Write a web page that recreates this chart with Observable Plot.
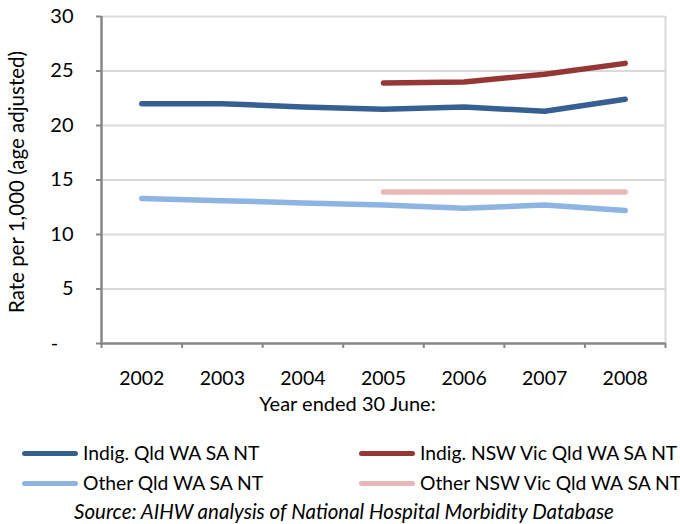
<!DOCTYPE html>
<html><head><meta charset="utf-8">
<script src="https://cdn.jsdelivr.net/npm/d3@7"></script>
<script src="https://cdn.jsdelivr.net/npm/@observablehq/plot@0.6"></script>
<style>
body{margin:0;background:#fff;font-family:Lato,sans-serif;}
#wrap{position:relative;width:680px;height:524px;overflow:hidden;}
#chart{position:absolute;left:0;top:0;}
.leg{position:absolute;display:flex;align-items:center;font-size:19.3px;color:#000;white-space:nowrap;height:20px;line-height:20px;}
.leg .sw{display:inline-block;width:56px;height:5px;border-radius:3px;margin-right:5px;}
#src{position:absolute;left:0;width:688px;text-align:center;top:500px;font-style:italic;font-size:20.5px;line-height:22px;}
</style></head>
<body><div id="wrap"><div id="chart"></div><div id="legend"></div><div id="src">Source: AIHW analysis of National Hospital Morbidity Database</div></div>
<script>
const years = [2002, 2003, 2004, 2005, 2006, 2007, 2008];
const seriesNames = ["Indig. Qld WA SA NT", "Indig. NSW Vic Qld WA SA NT", "Other Qld WA SA NT", "Other NSW Vic Qld WA SA NT"];
const indigQld = [22.0, 22.0, 21.7, 21.5, 21.7, 21.3, 22.4];
const indigAll = [null, null, null, 23.9, 24.0, 24.7, 25.7];
const otherQld = [13.3, 13.1, 12.9, 12.7, 12.4, 12.7, 12.2];
const otherAll = [null, null, null, 13.9, 13.9, 13.9, 13.9];
const colors = ["#376092", "#953735", "#8EB4E3", "#E6B9B8"];
const yTicks = [0, 5, 10, 15, 20, 25, 30];

const seriesValues = [indigQld, indigAll, otherQld, otherAll];
const rows = [];
seriesValues.forEach((vals, i) => vals.forEach((v, j) => {
  if (v != null) rows.push({series: seriesNames[i], year: years[j], value: v});
}));
const boundaries = years.map(y => y - 0.5).concat([years[years.length - 1] + 0.5]);

const chart = Plot.plot({
  width: 680, height: 420,
  marginLeft: 101, marginRight: 15, marginTop: 16, marginBottom: 77,
  x: {domain: [years[0] - 0.5, years[years.length - 1] + 0.5]},
  y: {domain: [0, 30]},
  color: {domain: seriesNames, range: colors},
  style: {fontFamily: "Lato, sans-serif", fontSize: "19px", color: "#000", background: "#fff"},
  marks: [
    Plot.ruleY(yTicks.filter(d => d > 0), {stroke: "#d9d9d9", strokeWidth: 2}),
    Plot.ruleX([years[years.length - 1] + 0.5], {stroke: "#d9d9d9", strokeWidth: 2}),
    Plot.axisY({ticks: yTicks, tickFormat: d => d === 0 ? "-\u00a0\u00a0\u00a0" : String(d), tickSize: 5, tickPadding: 23, stroke: "#868686", strokeWidth: 2, label: null, fontSize: 20}),
    Plot.axisX({ticks: years, tickFormat: d => String(d), tickSize: 0, tickPadding: 28, label: null, fontSize: 19.5}),
    Plot.axisX({ticks: boundaries, tickFormat: () => "", tickSize: 5, stroke: "#868686", strokeWidth: 2, label: null}),
    Plot.ruleX([years[0] - 0.5], {stroke: "#868686", strokeWidth: 2.5}),
    Plot.ruleY([0], {stroke: "#868686", strokeWidth: 2.5}),
    Plot.line(rows, {x: "year", y: "value", z: "series", stroke: "series", strokeWidth: 5.5, strokeLinecap: "round", strokeLinejoin: "round"}),
    Plot.text(["Rate per 1,000 (age adjusted)"], {frameAnchor: "left", rotate: -90, dx: -84, dy: 2, textAnchor: "middle", lineAnchor: "middle", fontSize: 20.5}),
    Plot.text(["Year ended 30 June:"], {frameAnchor: "bottom", dy: 61, dx: -36, textAnchor: "middle", lineAnchor: "middle", fontSize: 20})
  ]
});
document.getElementById("chart").appendChild(chart);

const legendPos = [[22, 443], [359, 443], [22, 473], [359, 473]];
const legend = document.getElementById("legend");
seriesNames.forEach((name, i) => {
  const d = document.createElement("div");
  d.className = "leg";
  d.style.left = legendPos[i][0] + "px";
  d.style.top = legendPos[i][1] + "px";
  d.innerHTML = `<span class="sw" style="background:${colors[i]}"></span><span>${name}</span>`;
  legend.appendChild(d);
});
</script>
</body></html>
